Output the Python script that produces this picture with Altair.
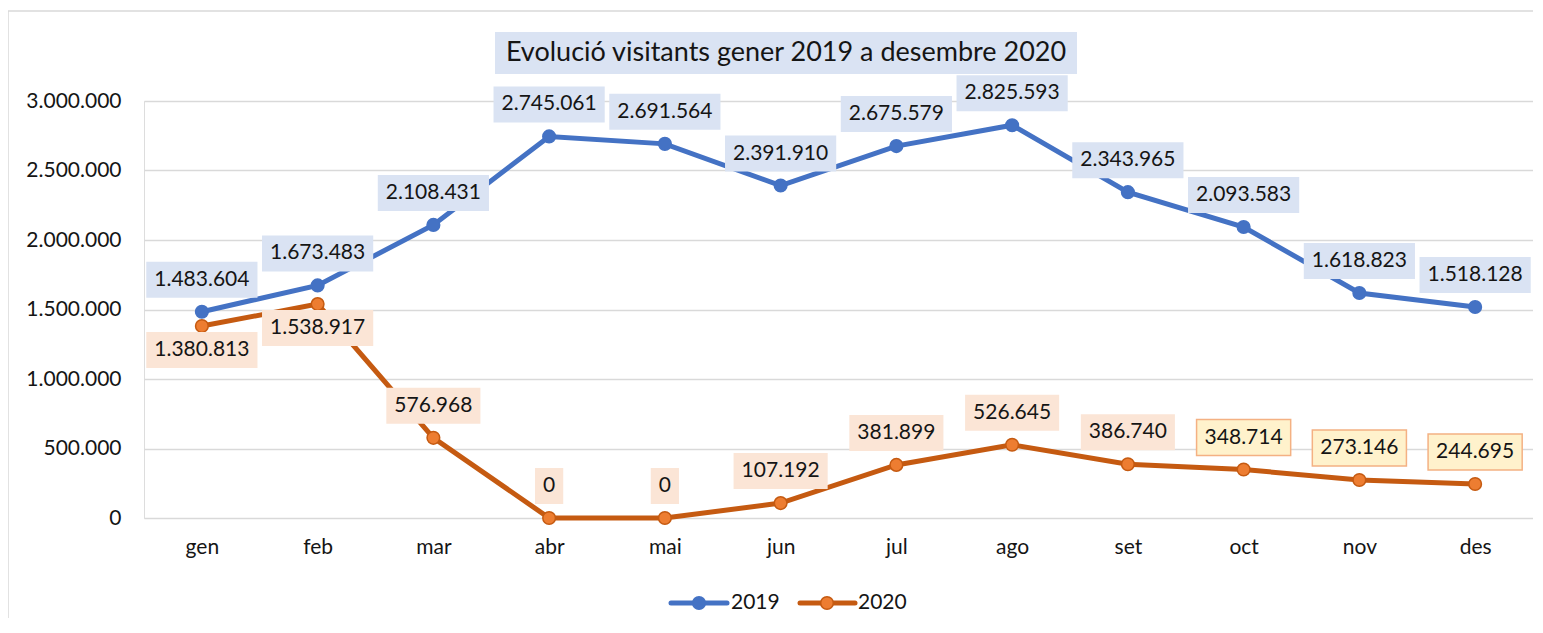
import json
import altair as alt
import pandas as pd

months = ['gen', 'feb', 'mar', 'abr', 'mai', 'jun', 'jul', 'ago', 'set', 'oct', 'nov', 'des']
v2019 = [1483604, 1673483, 2108431, 2745061, 2691564, 2391910, 2675579, 2825593, 2343965, 2093583, 1618823, 1518128]
v2020 = [1380813, 1538917, 576968, 0, 0, 107192, 381899, 526645, 386740, 348714, 273146, 244695]
series = ['2019', '2020']
title_text = 'Evolució visitants gener 2019 a desembre 2020'
y_ticks = [0, 500000, 1000000, 1500000, 2000000, 2500000, 3000000]

W, H = 1389, 417
UNIT = W / 12.0
FONT = 'Lato'
TXT = '#151515'
FS = 21

rows = []
for s, vals in zip(series, [v2019, v2020]):
    for i, (m, v) in enumerate(zip(months, vals)):
        rows.append({'serie': s, 'idx': i, 'mes': m, 'valor': v})
df = pd.DataFrame(rows)

base = alt.Chart(df).transform_calculate(
    lbl=r"replace(format(datum.valor, ','), /,/g, '.')"
).transform_calculate(
    ndots=r"length(datum.lbl) - length(replace(datum.lbl, /\./g, ''))"
).transform_calculate(
    half=f"((length(datum.lbl) - datum.ndots) * 12.2 + datum.ndots * 4.9 + 16) / 2 / {UNIT}",
    fillc="datum.serie == '2019' ? '#DAE3F3' : (datum.idx >= 9 ? '#FFF2CC' : '#FBE5D6')",
    strokec="datum.serie == '2020' && datum.idx >= 9 ? '#F4B183' : 'transparent'",
).transform_calculate(
    x1="datum.idx - datum.half",
    x2="datum.idx + datum.half",
)

xscale = alt.Scale(domain=[-0.5, 11.5], nice=False, zero=False)
yscale = alt.Scale(domain=[0, 3000000], nice=False)

x_axis = alt.Axis(
    values=list(range(12)),
    labelExpr=json.dumps(months) + "[datum.value]",
    grid=False, domain=False, ticks=False, title=None,
    labelFont=FONT, labelFontSize=FS, labelColor=TXT, labelPadding=18,
)
y_axis = alt.Axis(
    values=y_ticks,
    labelExpr=r"replace(format(datum.value, ','), /,/g, '.')",
    grid=True, gridColor='#D9D9D9', gridWidth=1.5, domain=False, ticks=False, title=None,
    labelFont=FONT, labelFontSize=FS, labelColor=TXT, labelPadding=23,
)

line_colors = alt.Scale(domain=series, range=['#4472C4', '#C55A11'])
fill_colors = alt.Scale(domain=series, range=['#4472C4', '#ED7D31'])

lines = base.mark_line(strokeWidth=5).encode(
    x=alt.X('idx:Q', scale=xscale, axis=x_axis),
    y=alt.Y('valor:Q', scale=yscale, axis=y_axis),
    color=alt.Color('serie:N', scale=line_colors, legend=None),
)
points = base.mark_point(filled=True, size=160, strokeWidth=1.5, opacity=1).encode(
    x='idx:Q', y='valor:Q',
    fill=alt.Fill('serie:N', scale=fill_colors, legend=None),
    stroke=alt.Stroke('serie:N', scale=line_colors, legend=None),
)

above_filter = "datum.serie == '2019' || datum.valor < 1000000"
below_filter = "!(datum.serie == '2019' || datum.valor < 1000000)"

box_above = base.transform_filter(above_filter).mark_rect(yOffset=-50, y2Offset=-14, strokeWidth=1.5).encode(
    x='x1:Q', x2='x2:Q', y='valor:Q', y2='valor:Q',
    fill=alt.Fill('fillc:N', scale=None),
    stroke=alt.Stroke('strokec:N', scale=None),
)
text_above = base.transform_filter(above_filter).mark_text(
    dy=-32, font=FONT, fontSize=FS, color=TXT, baseline='middle'
).encode(x='idx:Q', y='valor:Q', text='lbl:N')

box_below = base.transform_filter(below_filter).mark_rect(yOffset=6, y2Offset=42, strokeWidth=1.5).encode(
    x='x1:Q', x2='x2:Q', y='valor:Q', y2='valor:Q',
    fill=alt.Fill('fillc:N', scale=None),
    stroke=alt.Stroke('strokec:N', scale=None),
)
text_below = base.transform_filter(below_filter).mark_text(
    dy=24, font=FONT, fontSize=FS, color=TXT, baseline='middle'
).encode(x='idx:Q', y='valor:Q', text='lbl:N')

one = pd.DataFrame({'t': [title_text]})
title_box = alt.Chart(one).mark_rect(fill='#DAE3F3').encode(
    x=alt.value(351), x2=alt.value(933), y=alt.value(-69), y2=alt.value(-27))
title_txt = alt.Chart(one).mark_text(font=FONT, fontSize=27, color=TXT, baseline='middle').encode(
    x=alt.value(642), y=alt.value(-48), text='t:N')

border_left = alt.Chart(one).mark_rule(color='#D9D9D9', strokeWidth=1.5).encode(
    x=alt.value(-136), y=alt.value(-90), y2=alt.value(540))
border_top = alt.Chart(one).mark_rule(color='#D9D9D9', strokeWidth=1.5).encode(
    x=alt.value(-136), x2=alt.value(1389), y=alt.value(-90))

legend_layers = []
leg_pos = [(527, 583, 555, 587), (656, 711, 683, 714)]
for s, (a, b, c, t), lc, fc in zip(series, leg_pos, ['#4472C4', '#C55A11'], ['#4472C4', '#ED7D31']):
    d = pd.DataFrame({'s': [s]})
    legend_layers.append(alt.Chart(d).mark_rule(color=lc, strokeWidth=5, strokeCap='round').encode(
        x=alt.value(a), x2=alt.value(b), y=alt.value(502)))
    legend_layers.append(alt.Chart(d).mark_point(filled=True, size=160, fill=fc, stroke=lc, strokeWidth=1.5, opacity=1).encode(
        x=alt.value(c), y=alt.value(502)))
    legend_layers.append(alt.Chart(d).mark_text(font=FONT, fontSize=FS, color=TXT, align='left', baseline='middle').encode(
        x=alt.value(t), y=alt.value(502), text='s:N'))

chart = alt.layer(
    lines, points, box_above, text_above, box_below, text_below,
    title_box, title_txt, border_left, border_top, *legend_layers
).properties(
    width=W, height=H,
    autosize=alt.AutoSizeParams(type='none'),
    padding={'left': 136, 'top': 93, 'right': 0, 'bottom': 100},
).configure_view(stroke=None).configure(background='white')

chart.save("out.html", embed_options={"renderer": "svg", "actions": False})
